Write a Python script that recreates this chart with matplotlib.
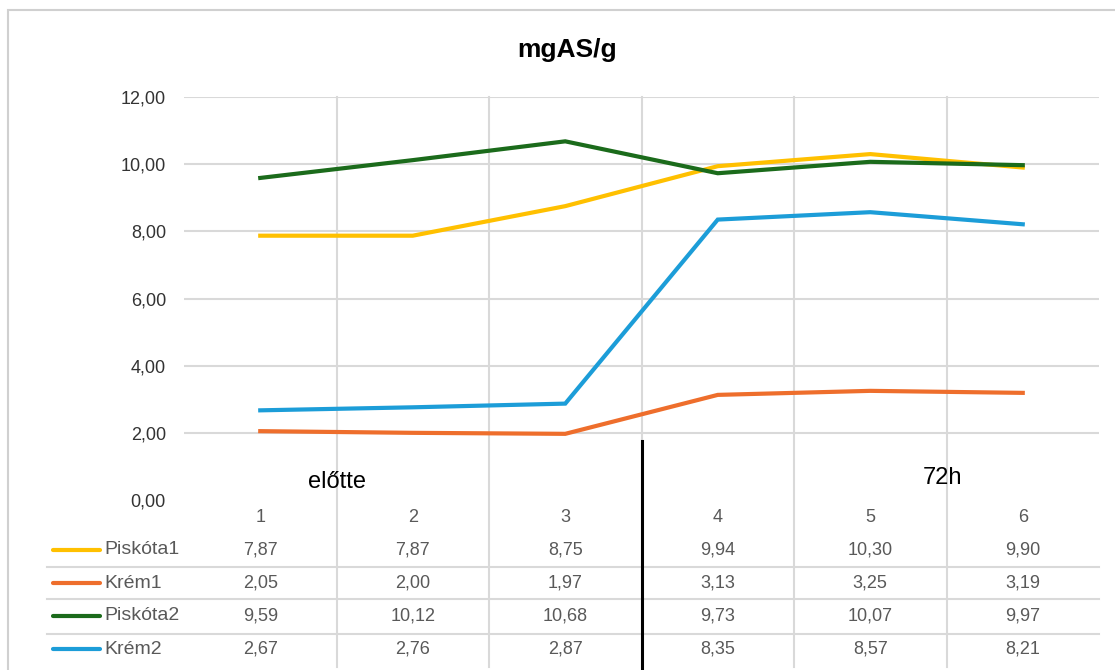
import matplotlib
matplotlib.use('Agg')
import matplotlib.pyplot as plt
import matplotlib.transforms as mtransforms
from matplotlib.patches import Rectangle

categories = ['1', '2', '3', '4', '5', '6']
series_names = ['Piskóta1', 'Krém1', 'Piskóta2', 'Krém2']
piskota1 = [7.87, 7.87, 8.75, 9.94, 10.30, 9.90]
krem1 = [2.05, 2.00, 1.97, 3.13, 3.25, 3.19]
piskota2 = [9.59, 10.12, 10.68, 9.73, 10.07, 9.97]
krem2 = [2.67, 2.76, 2.87, 8.35, 8.57, 8.21]
yticks = [0, 2, 4, 6, 8, 10, 12]

colors = ['#FFC000', '#EE6E2C', '#1B6B1B', '#1C9DD8']
W, H = 1115, 670

def fy(py):
    # pixel row -> figure fraction
    return 1 - py / H

plt.rcParams['font.family'] = ['Liberation Sans', 'DejaVu Sans']

fig = plt.figure(figsize=(W / 100, H / 100), dpi=100)
fig.patch.set_facecolor('white')
fig.add_artist(Rectangle((8 / W, fy(700)), 1.2, (700 - 10) / H, transform=fig.transFigure,
                         fill=False, edgecolor='#D0D0D0', linewidth=1.5))

left, right, top, bottom = 184, 1099, 97, 500
ax = fig.add_axes([left / W, fy(bottom), (right - left) / W, (bottom - top) / H])
ax.set_zorder(2)
ax.patch.set_visible(False)
ax.set_xlim(0.5, 6.5)
ax.set_ylim(0, 12)
for s in ax.spines.values():
    s.set_visible(False)
ax.set_xticks([])
ax.set_yticks(yticks)
ax.set_yticklabels(['{:.2f}'.format(v).replace('.', ',') for v in yticks],
                   fontsize=13, color='#333333')
ax.tick_params(axis='y', length=0, pad=13)
for v in yticks[1:]:
    ax.axhline(v, color='#D9D9D9', linewidth=1.5, zorder=0)

xs = list(range(1, 7))
data = [piskota1, krem1, piskota2, krem2]
for vals, c in zip(data, colors):
    ax.plot(xs, vals, color=c, linewidth=3, solid_joinstyle='miter', zorder=3)

trans = mtransforms.blended_transform_factory(ax.transData, fig.transFigure)

# vertical gridlines through chart and table
for b in [1.5, 2.5, 3.5, 4.5, 5.5]:
    fig.add_artist(plt.Line2D([b, b], [fy(97), fy(667)], transform=trans,
                              color='#D9D9D9', linewidth=1.5, zorder=0))

# black separator line
fig.add_artist(plt.Line2D([3.5, 3.5], [fy(441), fy(672)], transform=trans,
                          color='black', linewidth=2.2, zorder=5))

fig.text(567 / W, fy(50), 'mgAS/g', ha='center', va='center',
         fontsize=19, fontweight='bold', color='black')
fig.text(337 / W, fy(482), 'előtte', ha='center', va='center', fontsize=17, color='black')
fig.text(943 / W, fy(478), '72h', ha='center', va='center', fontsize=17, color='black')

# data table
for x, cat in zip(xs, categories):
    ax.text(x, fy(517), cat, transform=trans, ha='center', va='center',
            fontsize=13, color='#595959')

row_y = [550, 583, 616, 649]
for ry, name, vals, c in zip(row_y, series_names, data, colors):
    fig.add_artist(plt.Line2D([53 / W, 100 / W], [fy(ry), fy(ry)], transform=fig.transFigure,
                              color=c, linewidth=3, solid_capstyle='round'))
    fig.text(104 / W, fy(ry), name, ha='left', va='center', fontsize=14, color='#595959')
    for x, v in zip(xs, vals):
        ax.text(x, fy(ry), '{:.2f}'.format(v).replace('.', ','), transform=trans,
                ha='center', va='center', fontsize=13, color='#595959')

for sy in [567, 599, 634]:
    fig.add_artist(plt.Line2D([47 / W, right / W], [fy(sy), fy(sy)], transform=fig.transFigure,
                              color='#D9D9D9', linewidth=1.5, zorder=0))

fig.savefig('out.png', dpi=100)
